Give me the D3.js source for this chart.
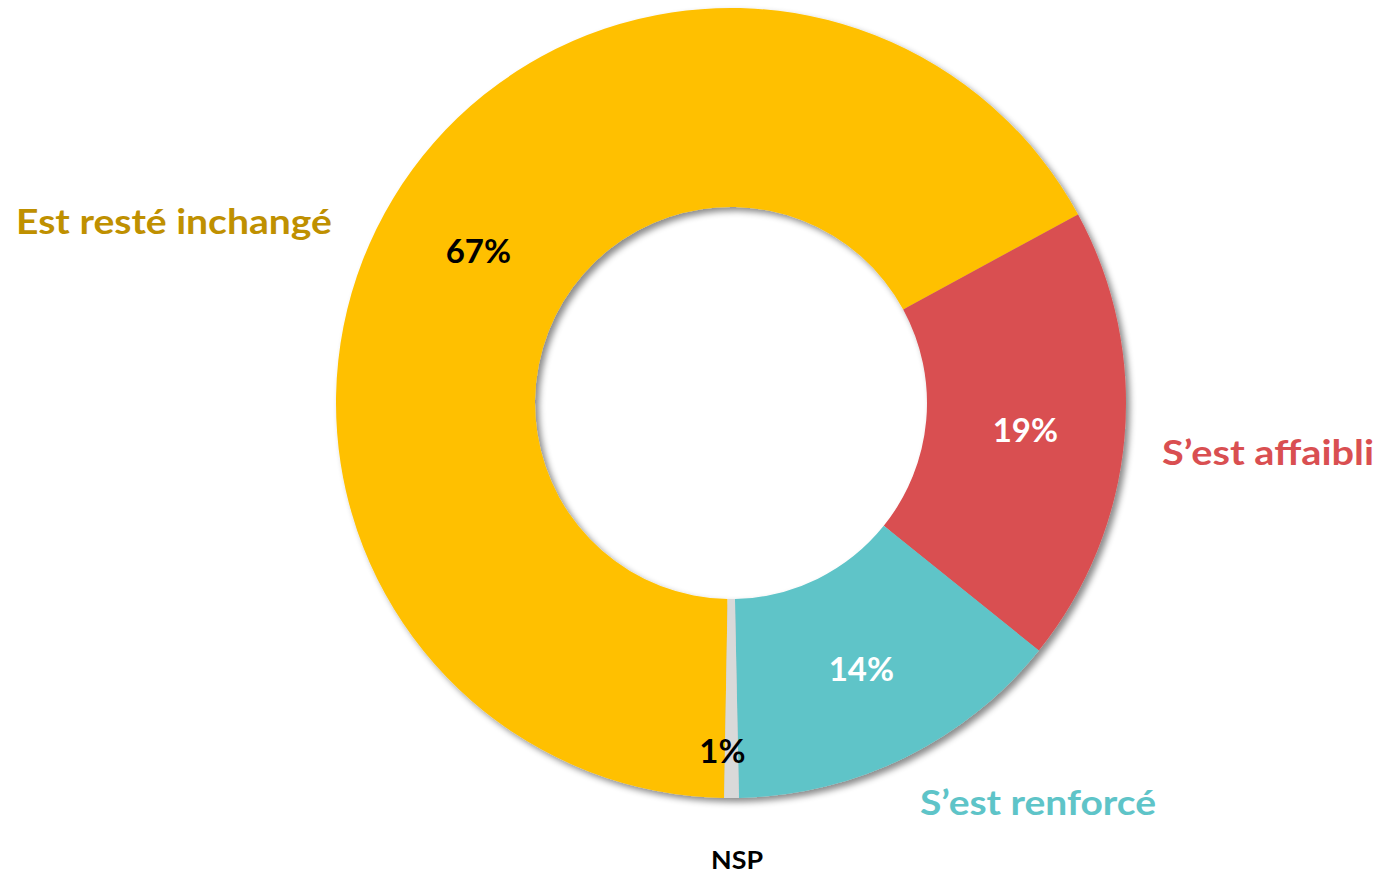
<!DOCTYPE html>
<html><head><meta charset="utf-8">
<script src="https://cdn.jsdelivr.net/npm/d3@7"></script>
<style>html,body{margin:0;padding:0;background:#fff;}svg{display:block;}</style>
</head><body>
<svg id="c" width="1382" height="874"></svg>
<script>
const categories = ["Est resté inchangé", "S’est affaibli", "S’est renforcé", "NSP"];
const values = [66.8, 18.7, 13.9, 0.6];
const valueLabels = ["67%", "19%", "14%", "1%"];
const sliceColors = ["#FFC000", "#D94F51", "#5EC4C8", "#D9D9D9"];
const catColors = ["#BF9000", "#D94F51", "#5EC4C8", "#000000"];
const valueTextColors = ["#000", "#fff", "#fff", "#000"];

const svg = d3.select("#c");
const cx = 731, cy = 403, rOut = 395, rIn = 196;
const defs = svg.append("defs");
const f = defs.append("filter").attr("id","sh").attr("x","-10%").attr("y","-10%").attr("width","120%").attr("height","120%");
f.append("feDropShadow").attr("dx",4).attr("dy",4).attr("stdDeviation",3).attr("flood-color","#000").attr("flood-opacity",0.45);

const data = categories.map((c,i)=>({cat:c, v:values[i], lab:valueLabels[i], i}));
const pie = d3.pie().sort(null).value(d=>d.v)
  .startAngle(181*Math.PI/180).endAngle(181*Math.PI/180 + 2*Math.PI);
const arcs = pie(data);
const arc = d3.arc().innerRadius(rIn).outerRadius(rOut);

const g = svg.append("g").attr("transform",`translate(${cx},${cy})`);
g.append("g").attr("filter","url(#sh)")
  .selectAll("path").data(arcs).join("path")
  .attr("d", arc).attr("fill", d=>sliceColors[d.data.i]);

const font = "Lato, 'Open Sans', sans-serif";
const valueOffsets = [[0,0],[0,0],[0,0],[-9,52]];
g.selectAll("text.v").data(arcs).join("text").attr("class","v")
  .attr("x", d=>arc.centroid(d)[0] + valueOffsets[d.data.i][0])
  .attr("y", d=>arc.centroid(d)[1] + valueOffsets[d.data.i][1])
  .attr("text-anchor","middle").attr("dominant-baseline","central")
  .attr("font-family", font).attr("font-weight", 700).attr("font-size", 33)
  .attr("fill", d=>valueTextColors[d.data.i])
  .text(d=>d.data.lab);

// outside category labels
const catPos = [[174,234,35,316],[1268,465,35,212],[1038,815,35,236],[737,869,25,52]];
svg.selectAll("text.c").data(data).join("text").attr("class","c")
  .attr("x", d=>catPos[d.i][0]).attr("y", d=>catPos[d.i][1])
  .attr("text-anchor","middle")
  .attr("font-family", font).attr("font-weight", 700)
  .attr("font-size", d=>catPos[d.i][2])
  .attr("textLength", d=>catPos[d.i][3]).attr("lengthAdjust","spacingAndGlyphs")
  .attr("fill", d=>catColors[d.i])
  .text(d=>d.cat);
</script>
</body></html>
